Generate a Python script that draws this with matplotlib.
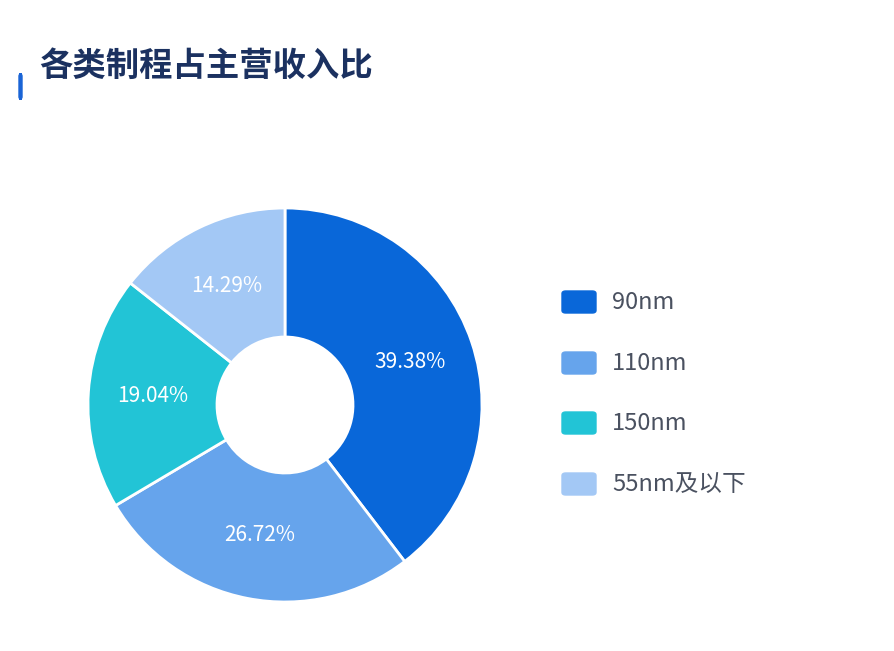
import matplotlib.pyplot as plt
from matplotlib.patches import FancyBboxPatch
import numpy as np

plt.rcParams['font.family'] = ['Noto Sans CJK SC', 'DejaVu Sans']

# data
labels = ["90nm", "110nm", "150nm", "55nm及以下"]
shares = [39.38, 26.72, 19.04, 14.29]
colors = ["#0967d9", "#66a4ec", "#22c4d6", "#a3c8f5"]
title = "各类制程占主营收入比"

W, H = 894, 651
fig = plt.figure(figsize=(W / 100, H / 100), dpi=100)
fig.patch.set_facecolor("white")

# title and accent bar (pixel coords from top-left)
fig.text(39 / W, 1 - 66 / H, title, fontsize=24, fontweight="bold",
         color="#1b3160", va="center", ha="left")
fig.patches.append(FancyBboxPatch((19 / W, 1 - 99 / H), 3 / W, 25 / H,
                                  boxstyle="round,pad=0,rounding_size=0.003",
                                  transform=fig.transFigure, color="#1a64d6"))

# donut
cx, cy, r_out, r_in = 285, 405, 197, 68
ax = fig.add_axes([(cx - r_out) / W, (H - cy - r_out) / H, 2 * r_out / W, 2 * r_out / H])
wedges, _ = ax.pie(shares, colors=colors, startangle=90, counterclock=False,
                   radius=1, wedgeprops=dict(width=1 - r_in / r_out,
                                             edgecolor="white", linewidth=2))
ax.set_xlim(-1, 1)
ax.set_ylim(-1, 1)
ax.set_aspect("equal")
ax.axis("off")

total = sum(shares)
start = 90.0
r_lab = (1 + r_in / r_out) / 2
for v in shares:
    mid = np.deg2rad(start - v / total * 360 / 2)
    ax.text(r_lab * np.cos(mid), r_lab * np.sin(mid), f"{v:.2f}%",
            ha="center", va="center", color="white", fontsize=15)
    start -= v / total * 360

# legend
ys = [302, 363, 423, 484]
for lab, col, y in zip(labels, colors, ys):
    fig.patches.append(FancyBboxPatch((562 / W, 1 - (y + 11) / H), 34 / W, 22 / H,
                                      boxstyle="round,pad=0,rounding_size=0.004",
                                      transform=fig.transFigure, color=col))
    fig.text(612 / W, 1 - y / H, lab, fontsize=17, color="#4a5160",
             va="center", ha="left")

fig.savefig("out.png", dpi=100, facecolor="white")
